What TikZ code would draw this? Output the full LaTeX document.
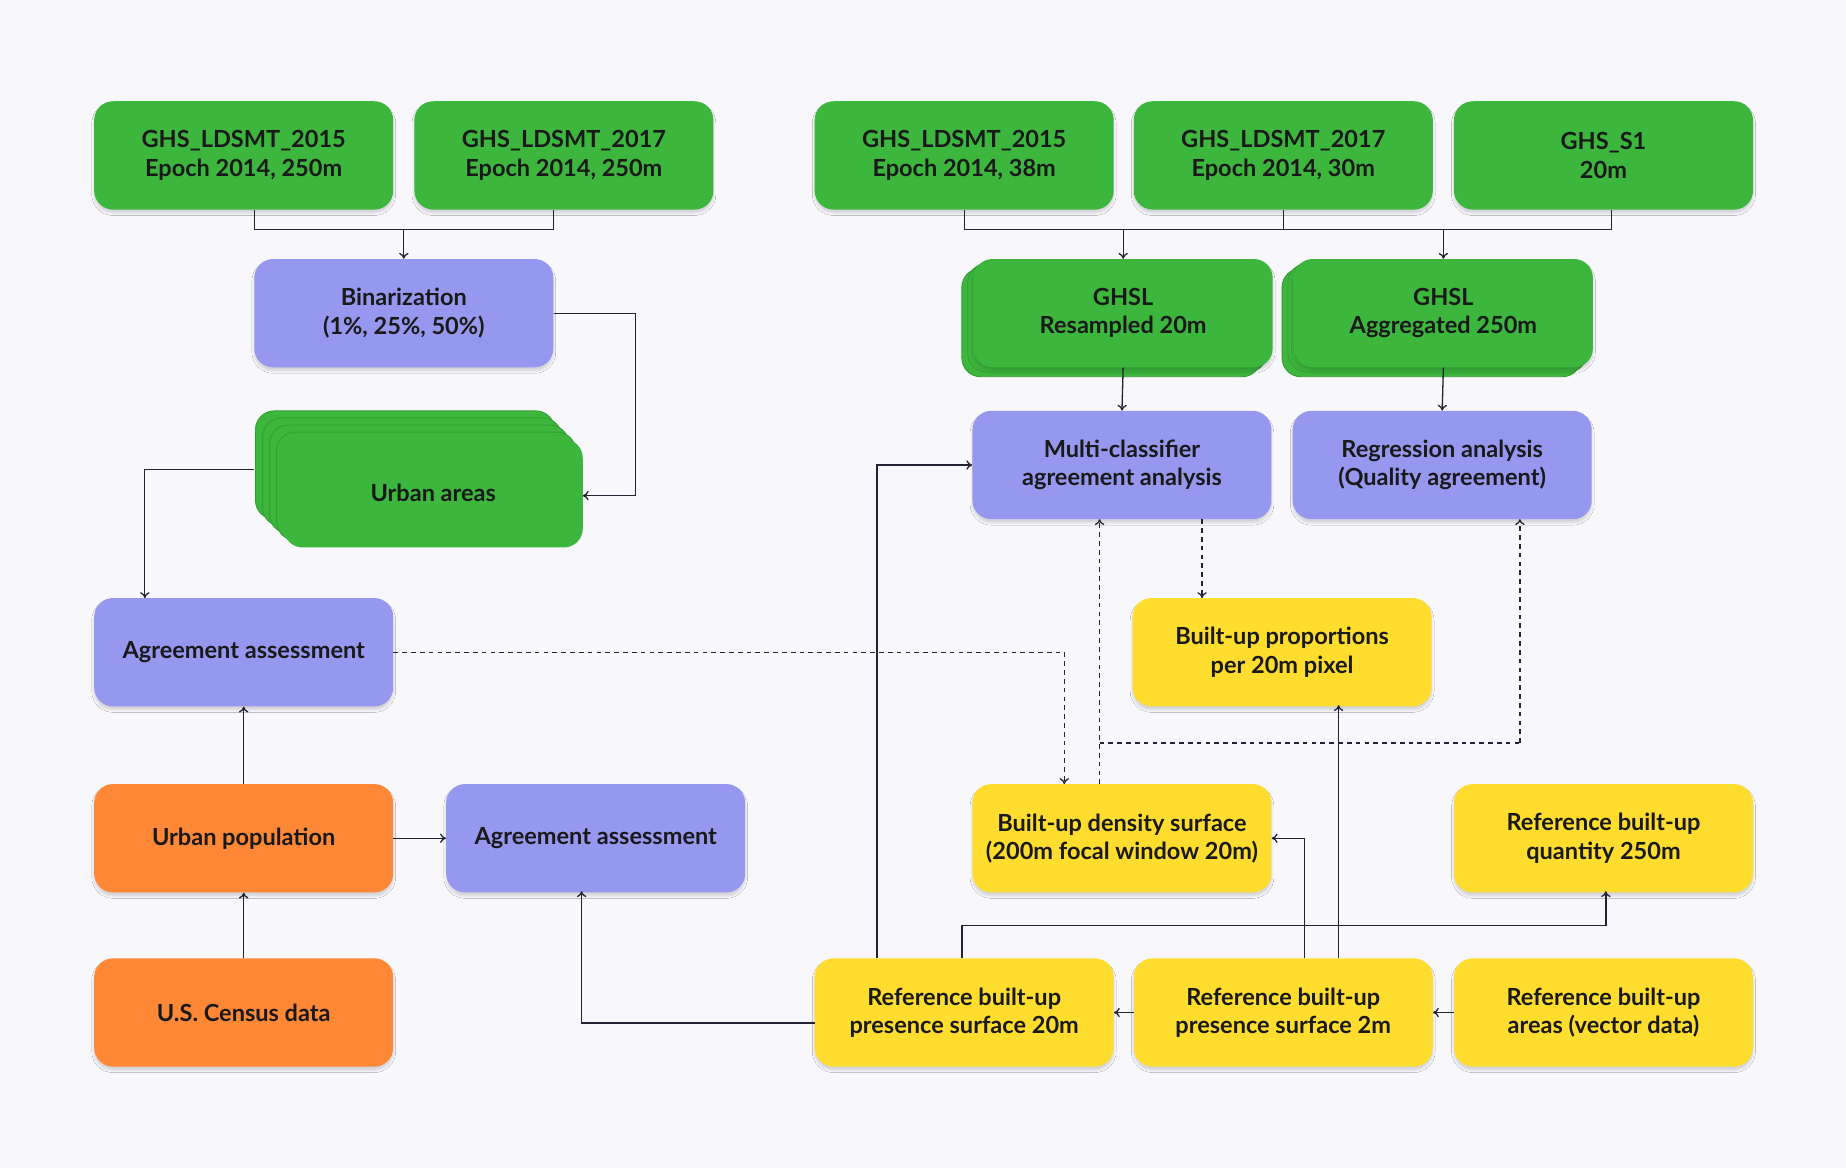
\documentclass[tikz,border=0pt]{standalone}
\usepackage{fontspec}
\setmainfont{Lato}
\usetikzlibrary{arrows.meta,shadows.blur}
\definecolor{bg}{HTML}{F8F8FC}
\definecolor{gr}{HTML}{3DB63D}
\definecolor{grd}{HTML}{33A033}
\definecolor{pu}{HTML}{9598EE}
\definecolor{orn}{HTML}{FF8836}
\definecolor{ye}{HTML}{FFDD2E}
\definecolor{ln}{HTML}{222233}
\tikzset{
 box/.style={rounded corners=16pt,minimum width=254pt,minimum height=92pt,align=center,
   font=\fontsize{20}{24}\selectfont\bfseries,text=black!90,
   blur shadow={shadow xshift=0pt,shadow yshift=-3pt,shadow blur steps=6,shadow opacity=15}},
 gbox/.style={box,fill=gr}, pbox/.style={box,fill=pu}, obox/.style={box,fill=orn}, ybox/.style={box,fill=ye},
 lay/.style={rounded corners=16pt,minimum width=254pt,minimum height=92pt,fill=gr,draw=grd,line width=0.8pt},
 c/.style={ln,line width=1.1pt,-{To[length=5pt,width=8pt]}},
 cl/.style={ln,line width=1.1pt},
 dsh/.style={c,dash pattern=on 4pt off 3.5pt},
 dl/.style={cl,dash pattern=on 4pt off 3.5pt}
}
\begin{document}
\begin{tikzpicture}[x=1pt,y=-1pt]
\fill[bg] (0,0) rectangle (1568,992);
\useasboundingbox (0,0) rectangle (1568,992);
\node[gbox] (a1) at (207,132) {GHS\_LDSMT\_2015\\Epoch 2014, 250m};
\node[gbox] (a2) at (479,132) {GHS\_LDSMT\_2017\\Epoch 2014, 250m};
\node[gbox] (b1) at (819,132) {GHS\_LDSMT\_2015\\Epoch 2014, 38m};
\node[gbox] (b2) at (1090,132) {GHS\_LDSMT\_2017\\Epoch 2014, 30m};
\node[gbox] (b3) at (1362,132) {GHS\_S1\\20m};
\node[pbox] (bin) at (343,266) {Binarization\\(1\%, 25\%, 50\%)};
\foreach \i in {2,1}{
 \node[lay] at (954-5*\i,266+4*\i) {};
 \node[lay] at (1226-5*\i,266+4*\i) {};}
\node[gbox] (gr) at (954,266) {GHSL\\Resampled 20m};
\node[gbox] (ga) at (1226,266) {GHSL\\Aggregated 250m};
\foreach \i in {4,3,2,1}{\node[lay] at (368-6*\i,419-6*\i) {};}
\node[lay,draw=none,text=black!90,font=\fontsize{20}{24}\selectfont\bfseries] (ua) at (368,419) {Urban areas};
\node[pbox] (mc) at (953,395) {Multi-classifier\\agreement analysis};
\node[pbox] (ra) at (1225,395) {Regression analysis\\(Quality agreement)};
\node[pbox] (ag1) at (207,554) {Agreement assessment};
\node[ybox] (bp) at (1089,554) {Built-up proportions\\per 20m pixel};
\node[obox] (up) at (207,712) {Urban population};
\node[pbox] (ag2) at (506,712) {Agreement assessment};
\node[ybox] (bd) at (953,712) {Built-up density surface\\(200m focal window 20m)};
\node[ybox] (rq) at (1362,712) {Reference built-up\\quantity 250m};
\node[obox] (us) at (207,860) {U.S. Census data};
\node[ybox] (r20) at (819,860) {Reference built-up\\presence surface 20m};
\node[ybox] (r2) at (1090,860) {Reference built-up\\presence surface 2m};
\node[ybox] (rv) at (1362,860) {Reference built-up\\areas (vector data)};
% top left
\draw[cl] (216,178) -- (216,195) -- (470,195) -- (470,178);
\draw[c] (343,195) -- (bin.north);
\draw[c] (bin.east) -- (540,266) -- (540,421) -- (495,421);
\draw[c] (216,399) -- (123,399) -- (123,508);
% top right
\draw[cl] (819,178) -- (819,195) -- (1369,195) -- (1369,178);
\draw[cl] (1090,178) -- (1090,195);
\draw[c] (954,195) -- (gr.north);
\draw[c] (1226,195) -- (ga.north);
\draw[c] (gr.south) -- (mc.north);
\draw[c] (ga.south) -- (ra.north);
% dashed
\draw[dsh] (ag1.east) -- (904,554) -- (904,666);
\draw[dsh] (934,666) -- (934,441);
\draw[dl] (934,631) -- (1291,631);
\draw[dsh] (1291,631) -- (1291,441);
\draw[dsh] (1021,441) -- (1021,508);
% lower left
\draw[c] (up.north) -- (ag1.south);
\draw[c] (us.north) -- (up.south);
\draw[c] (up.east) -- (ag2.west);
% lower right
\draw[c] (692,869) -- (494,869) -- (494,757);
\draw[c] (745,814) -- (745,395) -- (mc.west);
\draw[c] (817,814) -- (817,786) -- (1364,786) -- (1364,757);
\draw[c] (r2.west) -- (r20.east);
\draw[c] (rv.west) -- (r2.east);
\draw[c] (1108,814) -- (1108,712) -- (bd.east);
\draw[c] (1137,814) -- (1137,599);
\end{tikzpicture}
\end{document}
